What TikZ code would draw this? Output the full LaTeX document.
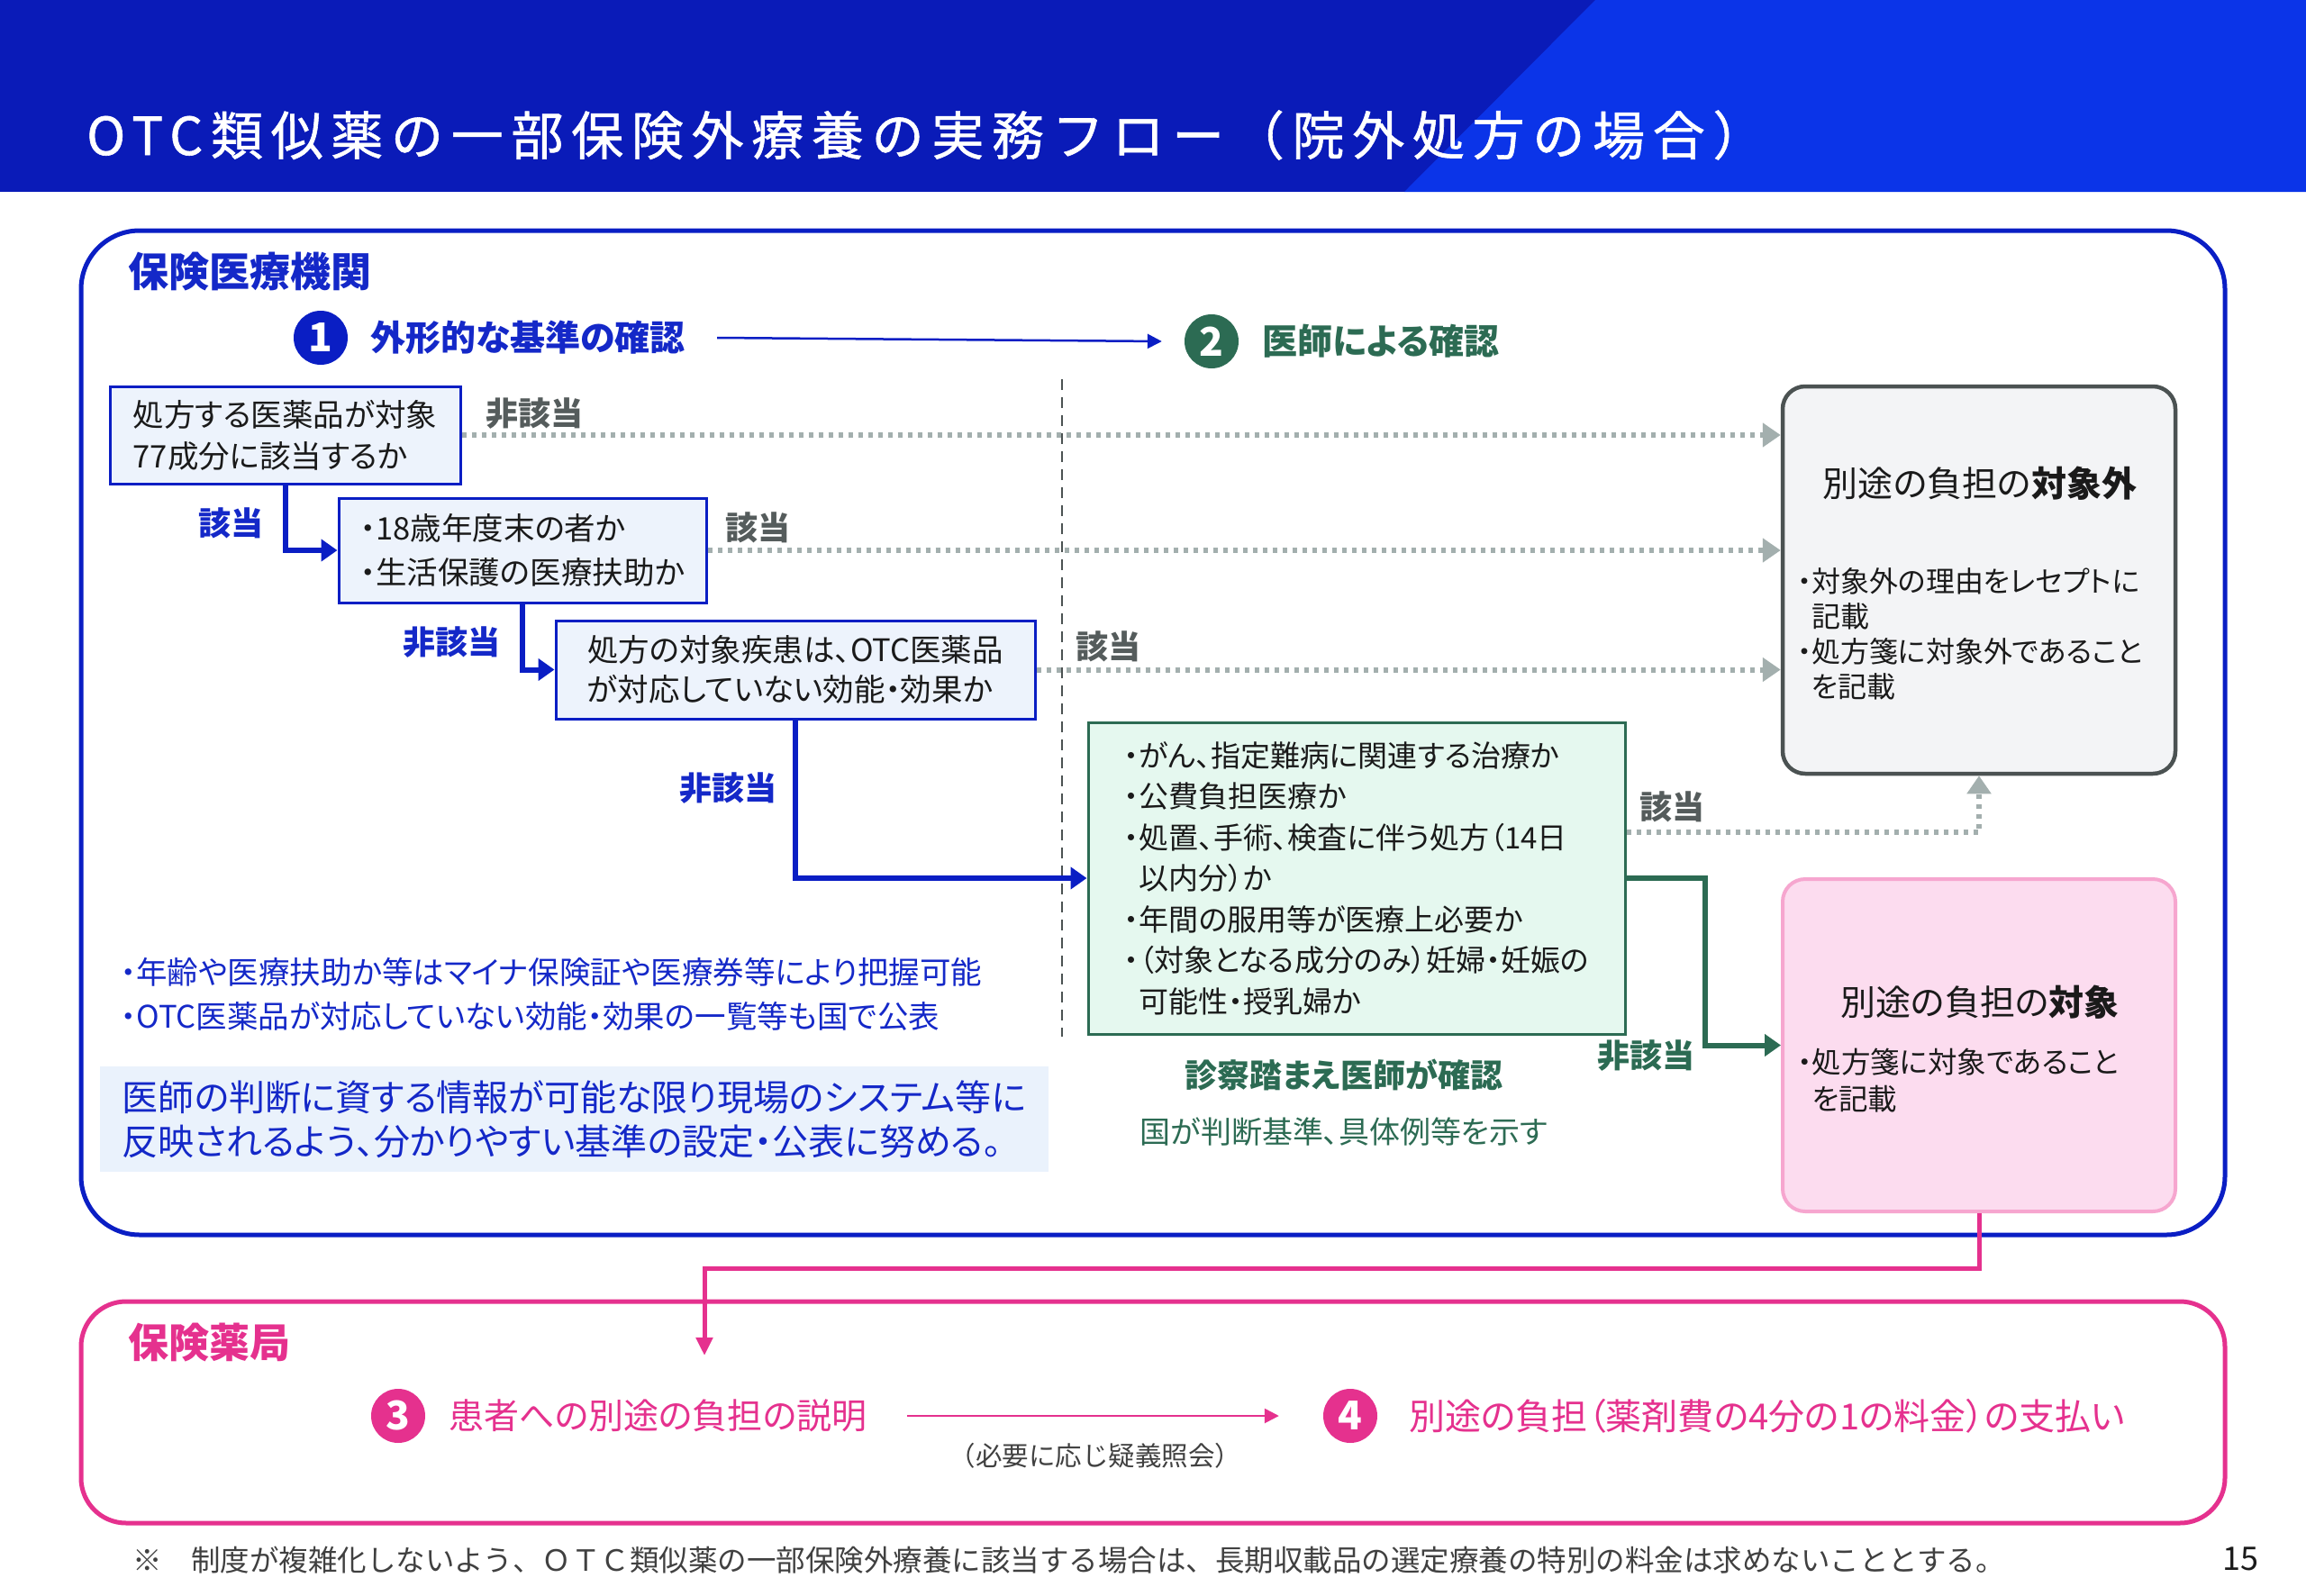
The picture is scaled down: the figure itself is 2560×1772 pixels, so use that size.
\documentclass[tikz,border=0pt]{standalone}
\usepackage{fontspec}
\setmainfont{Noto Sans CJK JP}[RawFeature=+palt]
\newfontfamily\titlefont{Noto Sans CJK JP}[LetterSpace=15, FakeBold=1]
\newfontfamily\fullfont{Noto Sans CJK JP}
\usetikzlibrary{arrows.meta,calc}
\definecolor{hdrdark}{HTML}{0A1BB8}
\definecolor{hdrlight}{HTML}{0B34E8}
\definecolor{mblue}{HTML}{0A1EC4}
\definecolor{tblue}{HTML}{1428C8}
\definecolor{mgreen}{HTML}{2C6B53}
\definecolor{mpink}{HTML}{E5318E}
\definecolor{lpink}{HTML}{F6A6CF}
\definecolor{pinkfill}{HTML}{FCDCEF}
\definecolor{bluefill}{HTML}{EDF3FC}
\definecolor{mintfill}{HTML}{E5F8EF}
\definecolor{grayfill}{HTML}{F3F4F6}
\definecolor{dgray}{HTML}{4B5252}
\definecolor{dotgray}{HTML}{A3AFAE}
\definecolor{lblgray}{HTML}{555C5C}
\definecolor{txt}{HTML}{1A1A1A}
\definecolor{fnote}{HTML}{404040}
\definecolor{infobg}{HTML}{EAF2FC}
\begin{document}
\begin{tikzpicture}[x=1pt,y=-1pt,
  qbox/.style={draw=mblue, line width=3pt, fill=bluefill, align=left, text=txt, inner sep=0pt},
  lbl/.style={font=\fontsize{36}{36}\selectfont\bfseries, inner sep=0pt},
  numc/.style={circle, minimum size=60pt, inner sep=0pt, text=white, font=\fontsize{44}{44}\selectfont\bfseries},
  bluearr/.style={draw=mblue, line width=6pt, -{Triangle[length=18pt,width=24pt]}},
  greenarr/.style={draw=mgreen, line width=6pt, -{Triangle[length=18pt,width=24pt]}},
  dotarr/.style={draw=dotgray, line width=6pt, dash pattern=on 5pt off 6pt, -{Triangle[length=20pt,width=26pt]}},
  thinarr/.style={line width=2.5pt, -{Triangle[length=16pt,width=16pt]}},
  pinkarr/.style={draw=mpink, line width=5pt, -{Triangle[length=20pt,width=18pt]}}
]
\useasboundingbox (0,0) rectangle (2560,1772);
\fill[white] (0,0) rectangle (2560,1772);
% header
\fill[hdrdark] (0,0) rectangle (2560,213);
\fill[hdrlight] (1771,0) -- (2560,0) -- (2560,213) -- (1559,213) -- cycle;
\node[anchor=west, text=white, inner sep=0pt, font=\titlefont\fontsize{58}{58}\selectfont] (title) at (96,150) {OTC類似薬の一部保険外療養の実務フロー（院外処方の場合）};

% frames
\draw[mblue, line width=5pt, rounded corners=65pt] (90,256) rectangle (2470,1371);
\draw[mpink, line width=5pt, rounded corners=50pt] (90,1445) rectangle (2470,1691);

\node[anchor=west, inner sep=0pt, text=tblue, font=\fontsize{45}{45}\selectfont\bfseries] (inst) at (142,302) {保険医療機関};

% step headers
\node[numc, fill=mblue] (c1) at (356,375) {1};
\node[anchor=west, inner sep=0pt, text=tblue, font=\fontsize{39}{39}\selectfont\bfseries] (t1) at (411,375) {外形的な基準の確認};
\node[numc, fill=mgreen] (c2) at (1345,379) {2};
\node[anchor=west, inner sep=0pt, text=mgreen, font=\fontsize{39}{39}\selectfont\bfseries] (t2) at (1401,379) {医師による確認};
\draw[thinarr, mblue] ($(t1.east)+(35,0)$) coordinate (a1s) -- ($(c2.west)+(-25,0)$) coordinate (a1e);

% vertical dashed divider
\coordinate (dv1) at (1179,421);
\coordinate (dv2) at (1179,1151);
\draw[dgray, line width=2.5pt, dash pattern=on 12pt off 8pt] (dv1) -- (dv2);

% question boxes
\node[qbox, minimum width=389pt, minimum height=108pt, font=\fontsize{34.5}{46}\selectfont] (A) at (316.5,483) {処方する医薬品が対象\\77成分に該当するか};
\node[qbox, minimum width=408pt, minimum height=116pt, font=\fontsize{34.5}{49}\selectfont] (B) at (580,611) {・18歳年度末の者か\\・生活保護の医療扶助か};
\node[qbox, minimum width=532pt, minimum height=109pt, font=\fontsize{34.5}{44}\selectfont] (C) at (883,743.5) {処方の対象疾患は、OTC医薬品\\が対応していない効能・効果か};
\node[draw=mgreen, line width=3pt, fill=mintfill, align=left, text=txt, inner sep=0pt, minimum width=596pt, minimum height=346pt, font=\fontsize{33}{45.5}\selectfont] (D) at (1506,975) {・がん、指定難病に関連する治療か\\・公費負担医療か\\・処置、手術、検査に伴う処方（14日\\\phantom{・}以内分）か\\・年間の服用等が医療上必要か\\・（対象となる成分のみ）妊婦・妊娠の\\\phantom{・}可能性・授乳婦か};

% result boxes
\node[draw=dgray, line width=4.5pt, fill=grayfill, rounded corners=25pt, minimum width=436pt, minimum height=430pt, inner sep=0pt] (E) at (2197,644) {};
\node[inner sep=0pt, text=txt, font=\fontsize{39}{39}\selectfont] (Et) at (2198,537) {別途の負担の\textbf{対象外}};
\node[anchor=west, inner sep=0pt, align=left, text=txt, font=\fontsize{32}{39}\selectfont] (Eb) at (1995,703.5) {・対象外の理由をレセプトに\\\phantom{・}記載\\・処方箋に対象外であること\\\phantom{・}を記載};

\node[draw=lpink, line width=4pt, fill=pinkfill, rounded corners=25pt, minimum width=436pt, minimum height=369pt, inner sep=0pt] (F) at (2197,1160.5) {};
\node[inner sep=0pt, text=txt, font=\fontsize{39}{39}\selectfont] (Ft) at (2198,1113) {別途の負担の\textbf{対象}};
\node[anchor=west, inner sep=0pt, align=left, text=txt, font=\fontsize{32.5}{41}\selectfont] (Fb) at (1995,1199.5) {・処方箋に対象であること\\\phantom{・}を記載};

% connectors
\draw[bluearr] (A.south) |- (B.west);
\draw[bluearr] (B.south) |- (C.west);
\draw[bluearr] (C.south) |- (D.west);
\draw[dotarr] (A.east) -- (A.east -| E.west);
\draw[dotarr] (B.east) -- (B.east -| E.west);
\draw[dotarr] (C.east) -- (C.east -| E.west);
\draw[dotarr] ([yshift=51pt]D.east) -| (E.south);
\draw[greenarr] (D.east) -- ++(87,0) |- (F.west);

% labels
\node[lbl, text=lblgray] (l1) at (593,459) {非該当};
\node[lbl, text=tblue] (l2) at (256,581) {該当};
\node[lbl, text=lblgray] (l3) at (841,586) {該当};
\node[lbl, text=tblue] (l4) at (501,713) {非該当};
\node[lbl, text=lblgray] (l5) at (1230,718) {該当};
\node[lbl, text=tblue] (l6) at (808,875) {非該当};
\node[lbl, text=lblgray] (l7) at (1856,896) {該当};
\node[lbl, text=mgreen] (l8) at (1827,1172) {非該当};

% notes
\node[anchor=west, inner sep=0pt, text=tblue, font=\fontsize{34.5}{34.5}\selectfont] (n1) at (134,1079) {・年齢や医療扶助か等はマイナ保険証や医療券等により把握可能};
\node[anchor=west, inner sep=0pt, text=tblue, font=\fontsize{34.5}{34.5}\selectfont] (n2) at (134,1128) {・OTC医薬品が対応していない効能・効果の一覧等も国で公表};
\node[fill=infobg, minimum width=1053pt, minimum height=117pt, inner sep=0pt, align=left, text=tblue, font=\fontsize{40}{49}\selectfont] (info) at (637.5,1242.5) {医師の判断に資する情報が可能な限り現場のシステム等に\\反映されるよう、分かりやすい基準の設定・公表に努める。};

\node[inner sep=0pt, text=mgreen, font=\fontsize{36}{36}\selectfont\bfseries] (g1) at (1492,1193) {診察踏まえ医師が確認};
\node[inner sep=0pt, text=mgreen, font=\fontsize{34}{34}\selectfont] (g2) at (1492,1257) {国が判断基準、具体例等を示す};

% pharmacy
\node[anchor=west, inner sep=0pt, text=mpink, font=\fontsize{45}{45}\selectfont\bfseries] (phar) at (142,1491) {保険薬局};
\coordinate (p3in) at (782,1505);
\draw[pinkarr] (F.south) -- ++(0,61) -| (p3in);
\node[numc, fill=mpink] (c3) at (442,1572) {3};
\node[anchor=west, inner sep=0pt, text=mpink, font=\fontsize{39}{39}\selectfont] (t3) at (498,1572) {患者への別途の負担の説明};
\node[numc, fill=mpink] (c4) at (1499,1572) {4};
\node[anchor=west, inner sep=0pt, text=mpink, font=\fontsize{40}{40}\selectfont] (t4) at (1564,1572) {別途の負担（薬剤費の4分の1の料金）の支払い};
\draw[thinarr, mpink] ($(t3.east)+(44,0)$) coordinate (a3s) -- ($(c4.west)+(-49,0)$) coordinate (a3e);
\node[inner sep=0pt, text=fnote, font=\fullfont\fontsize{29.5}{29.5}\selectfont] (inq) at (1216,1616) {（必要に応じ疑義照会）};

% footnote
\node[anchor=west, inner sep=0pt, text=fnote, font=\fullfont\fontsize{32.5}{32.5}\selectfont] (foot) at (147,1732) {※　制度が複雑化しないよう、ＯＴＣ類似薬の一部保険外療養に該当する場合は、長期収載品の選定療養の特別の料金は求めないこととする。};
\node[inner sep=0pt, text=txt, font=\fontsize{36}{36}\selectfont] (pg) at (2487,1731) {15};
\end{tikzpicture}
\end{document}
